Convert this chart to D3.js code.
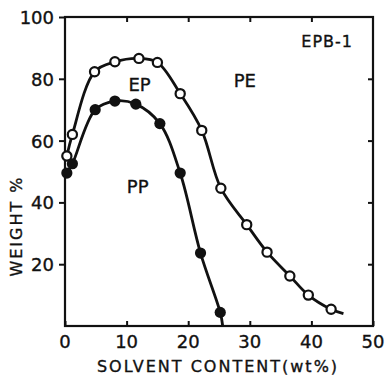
<!DOCTYPE html>
<html>
<head>
<meta charset="utf-8">
<script src="https://cdn.jsdelivr.net/npm/d3@7"></script>
<style>
  body { margin: 0; background: #fff; }
  text { font-family: "DejaVu Sans", sans-serif; fill: #111; stroke: #111; stroke-width: 0.35px; }
</style>
</head>
<body>
<div id="chart"></div>
<script>
// open circles (upper curve)
const openX = [0.3, 1.2, 4.8, 8.1, 12.0, 15.0, 18.7, 22.2, 25.3, 29.5, 32.8, 36.5, 39.5, 43.2];
const openY = [55, 62, 82.3, 85.5, 86.6, 85.3, 75.2, 63.3, 44.6, 32.8, 23.9, 16.2, 10.0, 5.4];
const openTail = [45.2, 4.0];

// filled circles (lower curve)
const filledX = [0.3, 1.2, 4.9, 8.1, 11.5, 15.4, 18.7, 22.0, 25.2];
const filledY = [49.5, 52.5, 70.0, 72.8, 71.8, 65.5, 49.5, 23.6, 4.4];
const filledTail = [25.6, 0];

const xTicks = [0, 10, 20, 30, 40, 50];
const yTicks = [20, 40, 60, 80, 100];

const regionLabels = [
  { text: "EP", x: 12.1, y: 76 },
  { text: "PE", x: 29.2, y: 77.3 },
  { text: "PP", x: 11.8, y: 43 }
];

const width = 388, height = 377;
const margin = { top: 17, right: 15, bottom: 51, left: 65 };
const w = width - margin.left - margin.right;
const h = height - margin.top - margin.bottom;

const svg = d3.select("#chart").append("svg")
  .attr("width", width)
  .attr("height", height);

const g = svg.append("g")
  .attr("transform", `translate(${margin.left},${margin.top})`);

const x = d3.scaleLinear().domain([0, 50]).range([0, w]);
const y = d3.scaleLinear().domain([0, 100]).range([h, 0]);

// frame
g.append("rect")
  .attr("width", w)
  .attr("height", h)
  .attr("fill", "none")
  .attr("stroke", "#111")
  .attr("stroke-width", 2.2);

// left axis, ticks outward
const leftAxis = g.append("g")
  .call(d3.axisLeft(y).tickValues(yTicks).tickSize(6).tickPadding(5));
leftAxis.select(".domain").remove();
leftAxis.selectAll("line").attr("stroke", "#111").attr("stroke-width", 2);
leftAxis.selectAll("text").style("font-size", "18px").attr("dy", "0.36em");

// right axis, ticks inward
const rightAxis = g.append("g")
  .attr("transform", `translate(${w},0)`)
  .call(d3.axisLeft(y).tickValues([20, 40, 60, 80]).tickSize(5).tickFormat(""));
rightAxis.select(".domain").remove();
rightAxis.selectAll("line").attr("stroke", "#111").attr("stroke-width", 2);

// bottom axis, ticks inward
const bottomAxis = g.append("g")
  .attr("transform", `translate(0,${h})`)
  .call(d3.axisTop(x).tickValues(xTicks).tickSize(5).tickFormat(""));
bottomAxis.select(".domain").remove();
bottomAxis.selectAll("line").attr("stroke", "#111").attr("stroke-width", 2);

g.append("g").selectAll("text")
  .data(xTicks)
  .join("text")
  .attr("x", d => x(d))
  .attr("y", h + 22)
  .attr("text-anchor", "middle")
  .style("font-size", "18px")
  .text(d => d);

// top axis, ticks inward
const topAxis = g.append("g")
  .call(d3.axisBottom(x).tickValues([10, 20, 30, 40]).tickSize(5).tickFormat(""));
topAxis.select(".domain").remove();
topAxis.selectAll("line").attr("stroke", "#111").attr("stroke-width", 2);

// curves
const line = d3.line()
  .x(d => x(d[0]))
  .y(d => y(d[1]))
  .curve(d3.curveCatmullRom.alpha(0.5));

const openPts = openX.map((v, i) => [v, openY[i]]);
const filledPts = filledX.map((v, i) => [v, filledY[i]]);

g.append("path")
  .datum(openPts.concat([openTail]))
  .attr("fill", "none")
  .attr("stroke", "#111")
  .attr("stroke-width", 2.8)
  .attr("d", line);

g.append("path")
  .datum(filledPts.concat([filledTail]))
  .attr("fill", "none")
  .attr("stroke", "#111")
  .attr("stroke-width", 2.8)
  .attr("d", line);

g.append("g").selectAll("circle")
  .data(openPts)
  .join("circle")
  .attr("cx", d => x(d[0]))
  .attr("cy", d => y(d[1]))
  .attr("r", 4.6)
  .attr("fill", "#fff")
  .attr("stroke", "#111")
  .attr("stroke-width", 2.2);

g.append("g").selectAll("circle")
  .data(filledPts)
  .join("circle")
  .attr("cx", d => x(d[0]))
  .attr("cy", d => y(d[1]))
  .attr("r", 5.6)
  .attr("fill", "#111");

// region labels
g.append("g").selectAll("text")
  .data(regionLabels)
  .join("text")
  .attr("x", d => x(d.x))
  .attr("y", d => y(d.y))
  .attr("text-anchor", "middle")
  .style("font-size", "18px")
  .text(d => d.text);

g.append("text")
  .attr("x", w - 20)
  .attr("y", 30)
  .attr("text-anchor", "end")
  .style("font-size", "16px")
  .style("letter-spacing", "1px")
  .text("EPB-1");

// axis titles
svg.append("text")
  .attr("x", 218)
  .attr("y", 372)
  .attr("text-anchor", "middle")
  .style("font-size", "16px")
  .style("letter-spacing", "2px")
  .text("SOLVENT CONTENT(wt%)");

svg.append("text")
  .attr("transform", "translate(22,226) rotate(-90)")
  .attr("text-anchor", "middle")
  .style("font-size", "16px")
  .style("letter-spacing", "2px")
  .text("WEIGHT %");
</script>
</body>
</html>
